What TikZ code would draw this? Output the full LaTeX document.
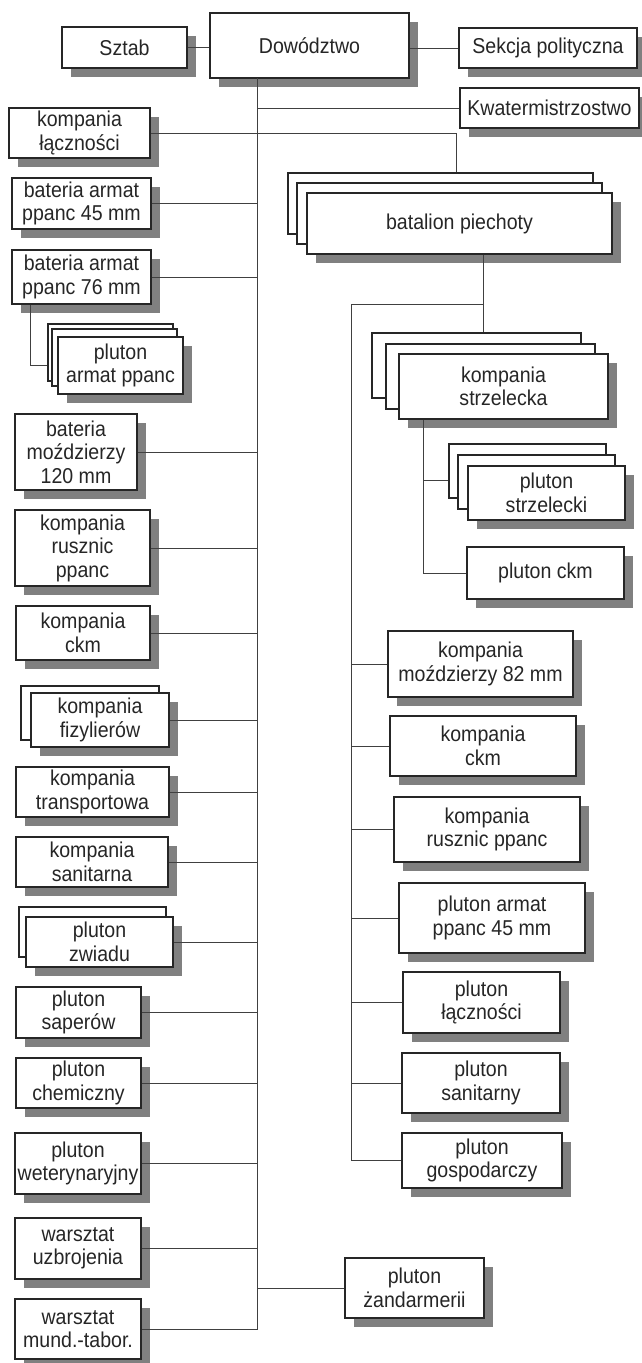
\documentclass[tikz,border=0pt]{standalone}
\usepackage{fontspec}
\setmainfont{Liberation Sans}[FakeStretch=0.91]
\usetikzlibrary{shadows}

\tikzset{
  unit/.style={draw=black!85, fill=white, line width=1.2pt, inner sep=0pt, align=center,
    text=black!85, font=\fontsize{21.5}{23.5}\selectfont,
    drop shadow={shadow xshift=9pt, shadow yshift=-9pt, fill=black!50, opacity=1}},
  link/.style={draw=black!75, line width=1pt},
  stacktwo/.style 2 args={copy shadow={shadow xshift=-#1pt, shadow yshift=#2pt,
    fill=white, draw=black!85, line width=1.2pt}},
  stackthree/.style n args={4}{copy shadow={shadow xshift=-#3pt, shadow yshift=#4pt,
    fill=white, draw=black!85, line width=1.2pt},
    copy shadow={shadow xshift=-#1pt, shadow yshift=#2pt,
    fill=white, draw=black!85, line width=1.2pt}}
}

\begin{document}
\begin{tikzpicture}[x=1pt,y=-1pt]
    \useasboundingbox (0,0) rectangle (642,1363);
    %Command
    \node[unit, minimum width=125pt, minimum height=41pt] (sztab) at (124.5,47.5) {Sztab};
    \node[unit, minimum width=199pt, minimum height=65pt] (dow) at (309.5,45.5) {Dowództwo};
    \node[unit, minimum width=178pt, minimum height=40pt] (sekcja) at (548,48) {Sekcja polityczna};
    \node[unit, minimum width=179pt, minimum height=40pt] (kwater) at (549.5,108) {Kwatermistrzostwo};
    %Regiment units
    \node[unit, minimum width=141pt, minimum height=50pt] (komlacz) at (79.5,133) {kompania\\łączności};
    \node[unit, minimum width=139pt, minimum height=51pt] (bat45) at (81.5,203.5) {bateria armat\\ppanc 45 mm};
    \node[unit, minimum width=139pt, minimum height=54pt] (bat76) at (81.5,277) {bateria armat\\ppanc 76 mm};
    \node[unit, stackthree={6}{8}{10}{13}, minimum width=125pt, minimum height=57pt] (plarm) at (120.5,365.5) {pluton\\armat ppanc};
    \node[unit, minimum width=122pt, minimum height=76pt] (bat120) at (76,452) {bateria\\moździerzy\\120 mm};
    \node[unit, minimum width=135pt, minimum height=76pt] (komrusz) at (82.5,548) {kompania\\rusznic\\ppanc};
    \node[unit, minimum width=134pt, minimum height=54pt] (komckm) at (83,633) {kompania\\ckm};
    \node[unit, stacktwo={10}{7}, minimum width=138pt, minimum height=54pt] (fizyl) at (100,720) {kompania\\fizylierów};
    \node[unit, minimum width=153pt, minimum height=50pt] (transp) at (92.5,792) {kompania\\transportowa};
    \node[unit, minimum width=152pt, minimum height=50pt] (sanit) at (92,862) {kompania\\sanitarna};
    \node[unit, stacktwo={7}{10}, minimum width=147pt, minimum height=50pt] (zwiad) at (99.5,942) {pluton\\zwiadu};
    \node[unit, minimum width=125pt, minimum height=51pt] (saper) at (78.5,1012.5) {pluton\\saperów};
    \node[unit, minimum width=125pt, minimum height=50pt] (chem) at (78.5,1083) {pluton\\chemiczny};
    \node[unit, minimum width=126pt, minimum height=61pt] (weter) at (78,1163.5) {pluton\\weterynaryjny};
    \node[unit, minimum width=126pt, minimum height=61pt] (warsuzb) at (78,1248.5) {warsztat\\uzbrojenia};
    \node[unit, minimum width=126pt, minimum height=60pt] (warsmund) at (78,1329) {warsztat\\mund.-tabor.};
    \node[unit, minimum width=139pt, minimum height=60pt] (zand) at (414.5,1288) {pluton\\żandarmerii};
    %Battalion
    \node[unit, stackthree={10}{10}{19}{20}, minimum width=305pt, minimum height=61pt] (batal) at (459.5,223.5) {batalion piechoty};
    \node[unit, stackthree={13}{10}{27}{21}, minimum width=209pt, minimum height=65pt] (strzel) at (503.5,386.5) {kompania\\strzelecka};
    \node[unit, stackthree={10}{11}{19}{22}, minimum width=157pt, minimum height=54pt] (plstrz) at (546.5,493) {pluton\\strzelecki};
    \node[unit, minimum width=157pt, minimum height=52pt] (plckm) at (545.5,573) {pluton ckm};
    \node[unit, minimum width=185pt, minimum height=66pt] (moz) at (480.5,664) {kompania\\moździerzy 82 mm};
    \node[unit, minimum width=186pt, minimum height=60pt] (bckm) at (483,746) {kompania\\ckm};
    \node[unit, minimum width=186pt, minimum height=65pt] (brusz) at (487,829.5) {kompania\\rusznic ppanc};
    \node[unit, minimum width=186pt, minimum height=70pt] (barm) at (492,918) {pluton armat\\ppanc 45 mm};
    \node[unit, minimum width=157pt, minimum height=61pt] (blacz) at (481.5,1002.5) {pluton\\łączności};
    \node[unit, minimum width=158pt, minimum height=60pt] (bsan) at (481,1083) {pluton\\sanitarny};
    \node[unit, minimum width=160pt, minimum height=55pt] (bgosp) at (482,1160.5) {pluton\\gospodarczy};

    %Staff and political section
    \draw[link] (sztab.east) -- (sztab.east -| dow.west);
    \draw[link] (dow.east |- sekcja.west) -- (sekcja.west);
    %Main line
    \coordinate (mtop) at (257,78);
    \draw[link] (mtop) |- (warsmund.east);
    \draw[link] (kwater.west) -- (kwater.west -| mtop);
    \draw[link] (komlacz.east) -| ([shift={(-3.5pt,20pt)}]batal.north);
    \draw[link] (bat45.east) -- (bat45.east -| mtop);
    \draw[link] (bat76.east) -- (bat76.east -| mtop);
    \draw[link] ([xshift=-51.5pt]bat76.south) |- ([xshift=-10pt]plarm.west);
    \draw[link] (bat120.east) -- (bat120.east -| mtop);
    \draw[link] (komrusz.east) -- (komrusz.east -| mtop);
    \draw[link] (komckm.east) -- (komckm.east -| mtop);
    \draw[link] (fizyl.east) -- (fizyl.east -| mtop);
    \draw[link] (transp.east) -- (transp.east -| mtop);
    \draw[link] (sanit.east) -- (sanit.east -| mtop);
    \draw[link] (zwiad.east) -- (zwiad.east -| mtop);
    \draw[link] (saper.east) -- (saper.east -| mtop);
    \draw[link] (chem.east) -- (chem.east -| mtop);
    \draw[link] (weter.east) -- (weter.east -| mtop);
    \draw[link] (warsuzb.east) -- (warsuzb.east -| mtop);
    \draw[link] (zand.west) -- (zand.west -| mtop);
    %Battalion line
    \coordinate (bj) at (483,304);
    \coordinate (rtop) at (351,304);
    \draw[link] ([xshift=23.5pt]batal.south) -- ([shift={(-20.5pt,21pt)}]strzel.north);
    \draw[link] (bj) -- (rtop) |- (bgosp.west);
    \draw[link] (rtop |- moz.west) -- (moz.west);
    \draw[link] (rtop |- bckm.west) -- (bckm.west);
    \draw[link] (rtop |- brusz.west) -- (brusz.west);
    \draw[link] (rtop |- barm.west) -- (barm.west);
    \draw[link] (rtop |- blacz.west) -- (blacz.west);
    \draw[link] (rtop |- bsan.west) -- (bsan.west);
    %Rifle company
    \coordinate (sk) at ([xshift=-80.5pt]strzel.south);
    \coordinate (plin) at ([shift={(-19pt,13pt)}]plstrz.west);
    \draw[link] (sk) |- (plckm.west);
    \draw[link] (plin) -- (plin -| sk);
\end{tikzpicture}
\end{document}
